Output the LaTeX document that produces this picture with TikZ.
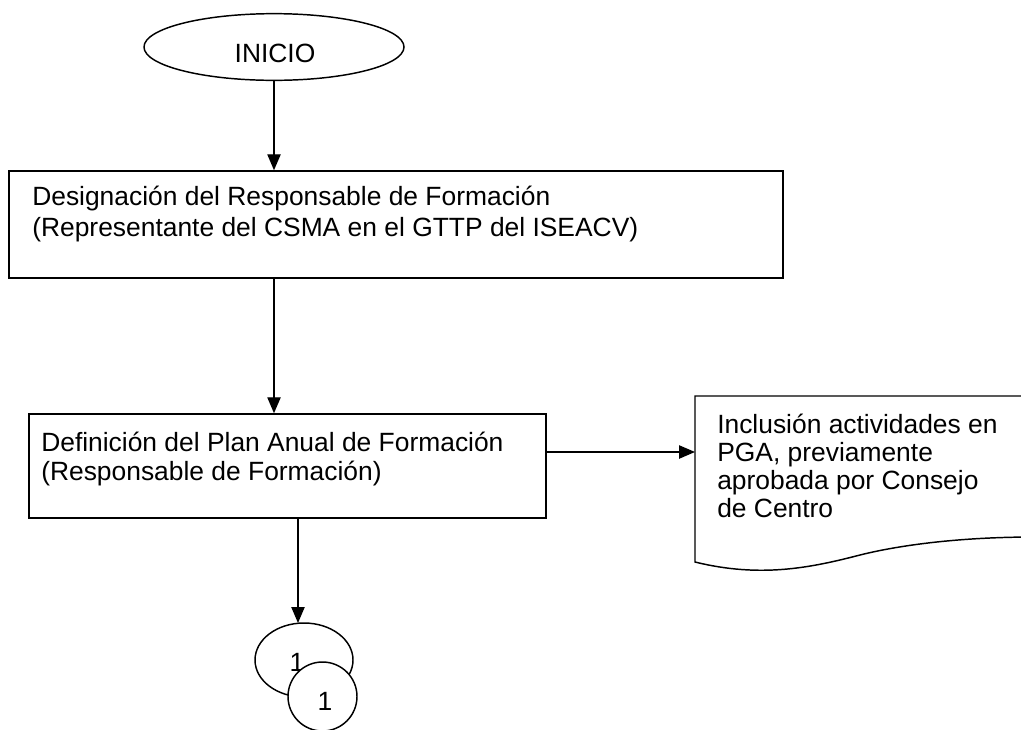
\documentclass[tikz,border=0pt]{standalone}
\usepackage{fontspec}
\setmainfont{Liberation Sans}
\usetikzlibrary{shapes.geometric,arrows.meta}
\begin{document}
\begin{tikzpicture}[x=0.75pt,y=-0.75pt,
  shp/.style={draw,line width=1.1pt,inner sep=0pt,fill=white},
  lbl/.style={inner sep=0pt,anchor=base west},
  ctr/.style={inner sep=0pt,font=\fontsize{19.8}{22}\selectfont},
  arr/.style={line width=1pt,-{Triangle[length=12pt,width=10pt]}}]
\useasboundingbox (0,0) rectangle (1021,729);

% start
\node[shp,ellipse,minimum width=195pt,minimum height=50pt] (inicio) at (274,47) {};
\node[ctr,anchor=base] (tinicio) at (275,62) {INICIO};

% box 1
\node[shp,rectangle,minimum width=580.5pt,minimum height=80.25pt] (b1) at (396,224.5) {};
\node[lbl,font=\fontsize{19.8}{23.8}\selectfont] (t1) at (32,205)
  {\begin{tabular}[t]{@{}l@{}}Designación del Responsable de Formación\\(Representante del CSMA en el GTTP del ISEACV)\end{tabular}};

% box 2
\node[shp,rectangle,minimum width=387.75pt,minimum height=78pt] (b2) at (287.5,466) {};
\node[lbl,font=\fontsize{19.8}{21.75}\selectfont] (t2) at (41,451)
  {\begin{tabular}[t]{@{}l@{}}Definición del Plan Anual de Formación\\(Responsable de Formación)\end{tabular}};

% document
\draw[line width=1.1pt,fill=white] (695,396) -- (1035,396) -- (1035,537)
  .. controls (960,537) and (900,545) .. (860,555)
  .. controls (810,568) and (760,578) .. (695,562) -- cycle;
\coordinate (din) at (695,452);
\node[lbl,font=\fontsize{19.8}{21.2}\selectfont] (td) at (717,433)
  {\begin{tabular}[t]{@{}l@{}}Inclusión actividades en\\PGA, previamente\\aprobada por Consejo\\de Centro\end{tabular}};

% connectors (off-page)
\node[shp,ellipse,minimum width=73.5pt,minimum height=55.5pt] (c1) at (304,660) {};
\node[ctr] (tc1) at (297,662) {1};
\node[shp,circle,minimum size=51.75pt] (c2) at (322.5,696.5) {};
\node[ctr] (tc2) at (325,701) {1};

% arrows
\draw[arr] (inicio.south) -- (inicio.south |- b1.north);
\draw[arr] (inicio.south |- b1.south) -- (inicio.south |- b2.north);
\coordinate (a3) at (298,518);
\draw[arr] (a3) -- (298,623);
\draw[arr] (b2.east |- din) -- (din);
\end{tikzpicture}
\end{document}
